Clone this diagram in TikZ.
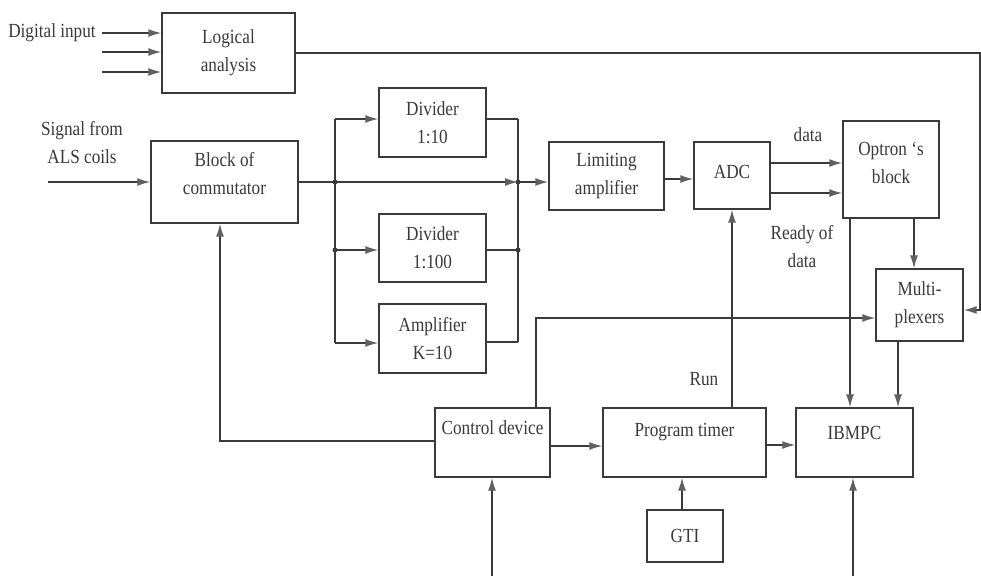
\documentclass[tikz,border=0pt]{standalone}
\usepackage{fontspec}
\setmainfont{Liberation Serif}[FakeStretch=0.86]
\usetikzlibrary{arrows.meta}
\definecolor{ink}{HTML}{3A3A3A}
\definecolor{tip}{HTML}{606060}
\begin{document}
\begin{tikzpicture}[x=1pt,y=-1pt,
  every node/.style={font=\fontsize{20}{28}\selectfont, text=ink},
  box/.style={draw=ink, line width=1.4pt, inner sep=0pt, align=center},
  txt/.style={align=center, inner sep=0pt},
  wire/.style={draw=ink, line width=1.4pt},
  arr/.style={wire, -{Latex[length=13pt,width=8pt,color=tip]}},
  dotj/.style={circle, fill=ink, inner sep=0pt, minimum size=5pt}]
\useasboundingbox[fill=white] (0,0) rectangle (981,576);

% boxes
\node[box, minimum width=133pt, minimum height=80pt] (logic) at (228.5,53) {Logical\\analysis};
\node[box, minimum width=147pt, minimum height=82pt,
      label={[txt,yshift=8pt]center:Block of\\commutator}] (comm) at (224.5,182) {};
\node[box, minimum width=107pt, minimum height=69pt] (div10) at (432.5,122.5) {Divider\\1:10};
\node[box, minimum width=107pt, minimum height=68pt] (div100) at (432.5,248) {Divider\\1:100};
\node[box, minimum width=107pt, minimum height=69pt] (ampk) at (432.5,338.5) {Amplifier\\K=10};
\node[box, minimum width=115pt, minimum height=68pt] (limamp) at (606.5,176) {Limiting\\amplifier};
\node[box, minimum width=76pt, minimum height=67pt,
      label={[txt,yshift=4pt]center:ADC}] (adc) at (732,175.5) {};
\node[box, minimum width=96pt, minimum height=97pt,
      label={[txt,yshift=7pt]center:Optron `s\\block}] (optron) at (891,169.5) {};
\node[box, minimum width=87pt, minimum height=72pt] (mux) at (919.5,305) {Multi-\\plexers};
\node[box, minimum width=115pt, minimum height=69pt,
      label={[txt,yshift=15pt]center:Control device}] (ctrl) at (492.5,442.5) {};
\node[box, minimum width=163pt, minimum height=69pt,
      label={[txt,yshift=10pt]center:Program timer}] (timer) at (684.5,442.5) {};
\node[box, minimum width=117pt, minimum height=69pt,
      label={[txt,yshift=10pt]center:IBMPC}] (ibm) at (854.5,442.5) {};
\node[box, minimum width=76pt, minimum height=52pt] (gti) at (685,536) {GTI};

% free labels
\node[txt] (ldig) at (52,33) {Digital input};
\node[txt] (lsig) at (82,143) {Signal from\\ALS coils};
\node[txt] (ldata) at (808,135) {data};
\node[txt] (lready) at (802,247) {Ready of\\data};
\node[txt] (lrun) at (704,379) {Run};

% coordinates
\coordinate (d1) at (102,33);
\coordinate (d2) at (102,52);
\coordinate (d3) at (102,72);
\coordinate (sig) at (48,182);
\coordinate (rt) at (980,53);
\coordinate (jL1) at (335,119);
\coordinate (jR1) at (518,119);
\coordinate (jL3) at (335,343);
\coordinate (jR3) at (518,342);
\coordinate (fb) at (220,441);
\coordinate (b1) at (492,576);
\coordinate (b2) at (853,576);
\node[dotj] (jL) at (335,182) {};
\node[dotj] (jR) at (518,182) {};
\node[dotj] (jL2) at (335,250) {};
\node[dotj] (jR2) at (518,250) {};

% digital inputs
\draw[arr] (d1) -- (d1 -| logic.west);
\draw[arr] (d2) -- (d2 -| logic.west);
\draw[arr] (d3) -- (d3 -| logic.west);
% logical analysis to multiplexers
\draw[arr] (logic.east) -- (rt) |- ([yshift=-5pt]mux.east);
% signal input
\draw[arr] (sig) -- (sig -| comm.west);
% main path
\draw[wire] (comm.east |- jL) -- (jL.center);
\draw[arr] (jL.center) -- (jR.center);
\draw[arr] (jR.center) -- (jR -| limamp.west);
% branches
\draw[wire] (jL1) -- (jL3);
\draw[wire] (jR1) -- (jR3);
\draw[arr] (jL1) -- (jL1 -| div10.west);
\draw[arr] (jL2.center) -- (jL2 -| div100.west);
\draw[arr] (jL3) -- (jL3 -| ampk.west);
\draw[wire] (jR1 -| div10.east) -- (jR1);
\draw[wire] (jR2 -| div100.east) -- (jR2.center);
\draw[wire] (jR3 -| ampk.east) -- (jR3);
% ADC and optron
\draw[arr] (limamp.east |- 0,179) -- (adc.west |- 0,179);
\draw[arr] (adc.east |- 0,163) -- (optron.west |- 0,163);
\draw[arr] (adc.east |- 0,193) -- (optron.west |- 0,193);
\draw[arr] (optron.south -| 914,0) -- (mux.north -| 914,0);
\draw[arr] (optron.south -| 850,0) -- (ibm.north -| 850,0);
\draw[arr] (mux.south -| 898,0) -- (ibm.north -| 898,0);
% control
\draw[arr] (ctrl.north -| 536,0) |- (mux.west |- 0,318);
\draw[arr] (timer.north -| adc.south) -- (adc.south);
\draw[arr] (ctrl.west |- fb) -- (fb) -- (fb |- comm.south);
\draw[arr] (ctrl.east |- 0,446) -- (timer.west |- 0,446);
\draw[arr] (timer.east |- 0,445) -- (ibm.west |- 0,445);
\draw[arr] (gti.north -| 682,0) -- (timer.south -| 682,0);
\draw[arr] (b1) -- (b1 |- ctrl.south);
\draw[arr] (b2) -- (b2 |- ibm.south);
\end{tikzpicture}
\end{document}
